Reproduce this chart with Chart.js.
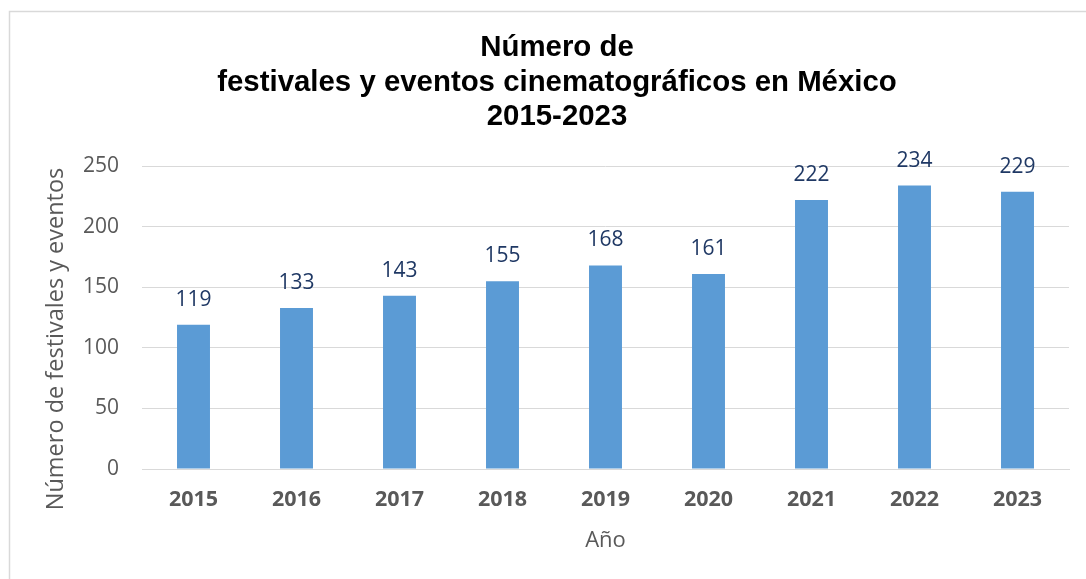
<!DOCTYPE html>
<html>
<head>
<meta charset="utf-8">
<script src="https://cdn.jsdelivr.net/npm/chart.js@4"></script>
<style>
  html, body { margin: 0; padding: 0; background: #fff; }
  #wrap { width: 1086px; height: 579px; }
</style>
</head>
<body>
<div id="wrap"><canvas id="grafica"></canvas></div>
<script>
const anios = ['2015', '2016', '2017', '2018', '2019', '2020', '2021', '2022', '2023'];
const festivales = [119, 133, 143, 155, 168, 161, 222, 234, 229];
const tituloLineas = ['Número de', 'festivales y eventos cinematográficos en México', '2015-2023'];

const gris = '#595959';

// etiquetas de valor encima de cada barra
const etiquetasValor = {
  id: 'etiquetasValor',
  afterDatasetsDraw(chart) {
    const ctx = chart.ctx;
    const meta = chart.getDatasetMeta(0);
    ctx.save();
    ctx.font = '21px "Open Sans"';
    ctx.fillStyle = '#1F3864';
    ctx.textAlign = 'center';
    ctx.textBaseline = 'middle';
    meta.data.forEach((bar, i) => {
      ctx.fillText(String(festivales[i]), bar.x, bar.y - 25);
    });
    ctx.restore();
  }
};

// borde del área del gráfico (solo arriba e izquierda se ven en el recorte)
const borde = {
  id: 'borde',
  afterDraw(chart) {
    const ctx = chart.ctx;
    ctx.save();
    ctx.strokeStyle = '#d9d9d9';
    ctx.lineWidth = 1.5;
    ctx.beginPath();
    ctx.moveTo(9.5, chart.height);
    ctx.lineTo(9.5, 11.5);
    ctx.lineTo(chart.width, 11.5);
    ctx.stroke();
    ctx.restore();
  }
};

new Chart(document.getElementById('grafica'), {
  type: 'bar',
  data: {
    labels: anios,
    datasets: [{
      label: 'Festivales',
      data: festivales,
      backgroundColor: '#5B9BD5',
      categoryPercentage: 1,
      barPercentage: 0.32
    }]
  },
  options: {
    responsive: true,
    maintainAspectRatio: false,
    animation: false,
    layout: { padding: { top: 31, right: 17, bottom: 0, left: 45 } },
    plugins: {
      legend: { display: false },
      tooltip: { enabled: false },
      title: {
        display: true,
        text: tituloLineas,
        color: '#000',
        font: { family: '"Liberation Sans", Arial', size: 29.4, weight: 'bold', lineHeight: 1.17 },
        padding: { top: 0, bottom: 32 }
      }
    },
    scales: {
      x: {
        grid: { display: false, drawTicks: false },
        border: { color: '#d9d9d9' },
        ticks: { color: gris, padding: 18, font: { family: '"Open Sans"', size: 21.5, weight: 'bold' } },
        title: { display: true, text: 'Año', color: gris, font: { family: '"Open Sans"', size: 22 }, padding: { top: 0, bottom: 25 } },
        afterFit(scale) { scale.height = 110; }
      },
      y: {
        min: 0,
        max: 250,
        ticks: { stepSize: 50, color: gris, padding: 23, font: { family: '"Open Sans"', size: 21 } },
        grid: { color: '#d9d9d9', drawTicks: false },
        border: { display: false },
        // espacios finales para bajar el título como en el original
        title: { display: true, text: 'Número de festivales y eventos\u00a0\u00a0\u00a0\u00a0\u00a0\u00a0\u00a0', color: gris, font: { family: '"Open Sans"', size: 23.5, lineHeight: 1 }, padding: { top: 0, bottom: 0 } },
        afterFit(scale) { scale.width = 97; }
      }
    }
  },
  plugins: [etiquetasValor, borde]
});
</script>
